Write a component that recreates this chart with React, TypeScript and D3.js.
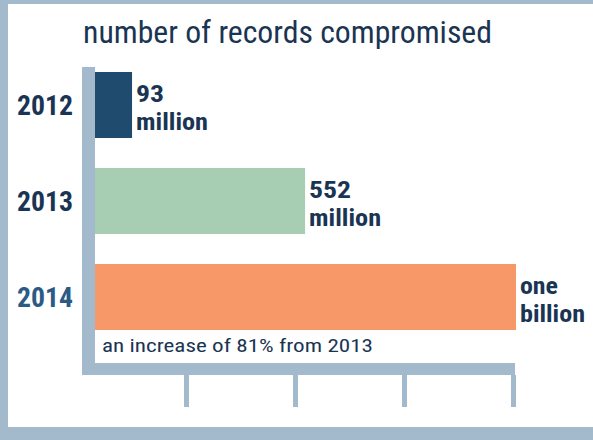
import React from "react";
import * as d3 from "d3";

const years = ["2012", "2013", "2014"];
// bar lengths as drawn in the picture (millions of records)
const barLengths = [88, 499, 1000];
const valueLine1 = ["93", "552", "one"];
const valueLine2 = ["million", "million", "billion"];
const barColors = ["#1f4b6e", "#a7cdb3", "#f79868"];
const yearColors = ["#1a3553", "#1a3553", "#2b5a85"];
const tickValues = [250, 500, 750, 1000];
const title = "number of records compromised";
const note = "an increase of 81% from 2013";

const W = 593;
const H = 440;
const FRAME = "#a3bacc";
const TEXT = "#1a3553";
const FONT = "'Liberation Sans Narrow', 'Roboto Condensed', 'Arial Narrow', Roboto, sans-serif";

export default function App() {
  const y = d3.scaleBand<string>().domain(years).range([72, 330]).paddingInner(0.3125).paddingOuter(0);
  const x = d3.scaleLinear().domain([0, 1000]).range([95, 516]);
  const tickX = d3.scaleLinear().domain([0, 1000]).range([77.5, 513.5]);

  const line1W = [28, 42, 38];
  const line2W = [72, 72, 65];

  return (
    <svg width={W} height={H} style={{ position: "absolute", left: 0, top: 0, background: "#fff" }}>
      {/* frame */}
      <rect x={0} y={0} width={W} height={4} fill={FRAME} />
      <rect x={0} y={0} width={8} height={H} fill={FRAME} />
      <rect x={0} y={427} width={W} height={13} fill={FRAME} />

      {/* title */}
      <text x={83} y={43} fontFamily={FONT} fontSize={31} fill={TEXT} textLength={409} lengthAdjust="spacingAndGlyphs">
        {title}
      </text>

      {/* axes */}
      <rect x={82} y={67} width={13} height={308} fill={FRAME} />
      <rect x={82} y={363} width={433} height={12} fill={FRAME} />
      {tickValues.map((t) => (
        <rect key={t} x={tickX(t) - 2.5} y={375} width={5} height={32} fill={FRAME} />
      ))}

      {/* bars */}
      {years.map((yr, i) => {
        const top = y(yr)!;
        const bw = y.bandwidth();
        const end = x(barLengths[i]);
        return (
          <g key={yr}>
            <rect x={x(0)} y={top} width={end - x(0)} height={bw} fill={barColors[i]} />
            <text x={17} y={top + bw / 2 + 10} fontFamily={FONT} fontWeight="bold" fontSize={27} fill={yearColors[i]} textLength={56} lengthAdjust="spacingAndGlyphs">
              {yr}
            </text>
            <text x={end + 4} y={top + 29.5} fontFamily={FONT} fontWeight="bold" fontSize={24} fill={TEXT} textLength={line1W[i]} lengthAdjust="spacingAndGlyphs">
              {valueLine1[i]}
            </text>
            <text x={end + 4} y={top + 57.5} fontFamily={FONT} fontWeight="bold" fontSize={24} fill={TEXT} textLength={line2W[i]} lengthAdjust="spacingAndGlyphs">
              {valueLine2[i]}
            </text>
          </g>
        );
      })}

      {/* note */}
      <text x={102} y={352} fontFamily={FONT} fontSize={18.5} fill={TEXT} textLength={271} lengthAdjust="spacingAndGlyphs">
        {note}
      </text>
    </svg>
  );
}
